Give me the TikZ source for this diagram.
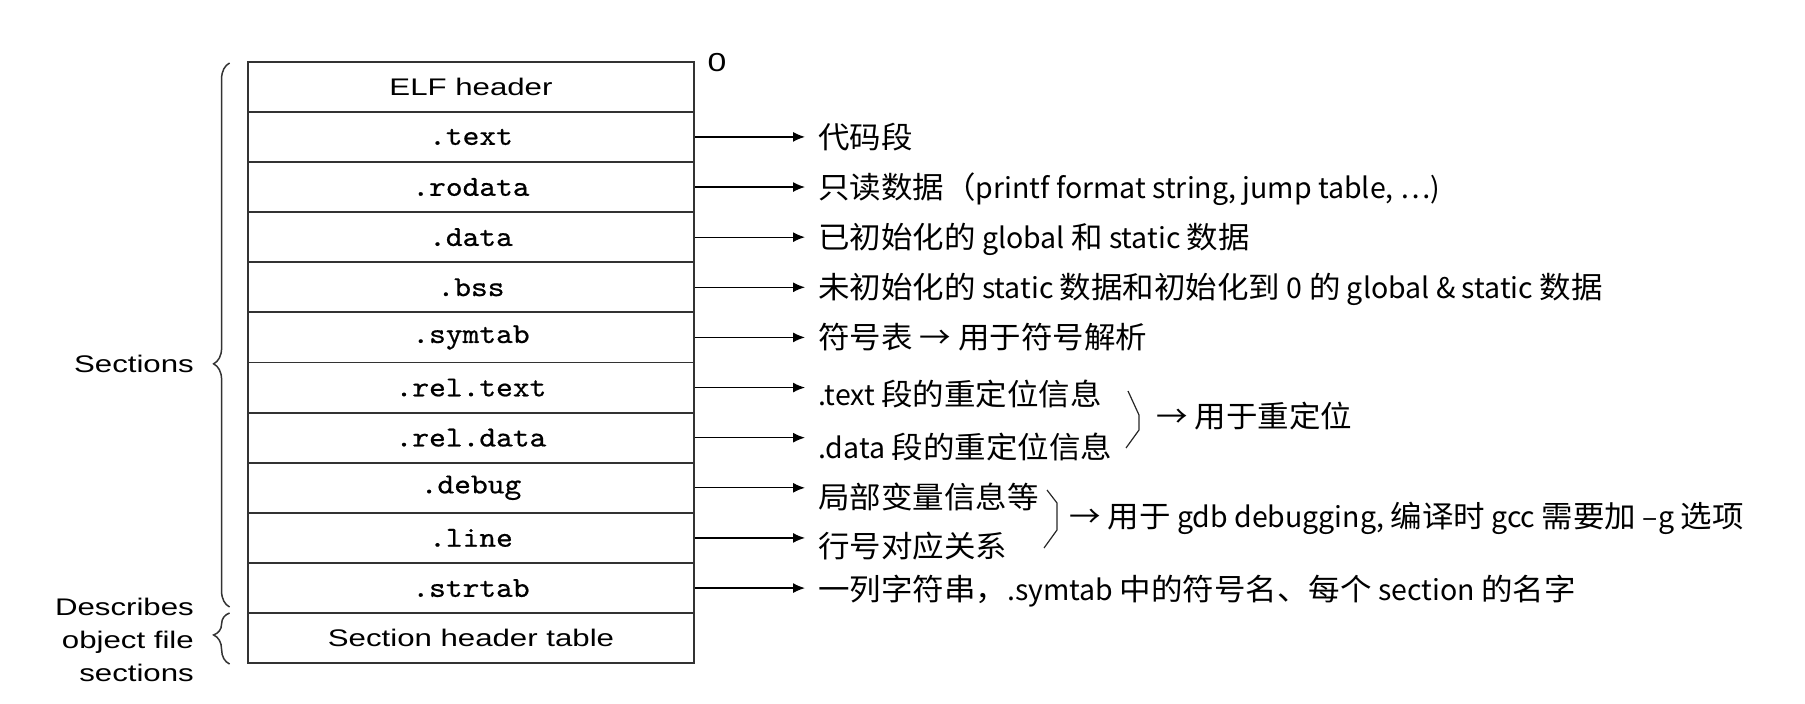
\documentclass[tikz,border=0pt]{standalone}
\usepackage{fontspec}
\usepackage{graphicx}
\setmainfont{Liberation Sans}
\newfontfamily\cjk[FakeStretch=1.05]{Noto Sans CJK SC}
\newfontfamily\cjklat{Noto Sans CJK SC}
\newfontfamily\secmono[FakeBold=0.6]{lmmono10-regular.otf}
\usetikzlibrary{arrows.meta,decorations.pathreplacing}
% the labels of the figure are set a little wide
\newcommand{\hstr}[1]{\scalebox{1.3}[1]{#1}}
% section names in typewriter type
\newcommand{\secname}[1]{\scalebox{1.1}[1]{\secmono\fontsize{29}{32}\selectfont#1}}
% Latin words inside the Chinese notes
\newcommand{\latrun}[1]{{\cjklat\fontsize{28.5}{34}\selectfont#1}}

\begin{document}
\begin{tikzpicture}[x=1pt,y=-1pt,
  seg/.style={draw=black!80, line width=1.8pt, minimum width=446pt,
    minimum height=50.13pt, inner sep=0pt, font=\fontsize{24}{28}\selectfont},
  note/.style={anchor=west, inner sep=0pt, text height=26.4pt, text depth=3.6pt,
    font=\cjk\fontsize{30}{36}\selectfont},
  pointer/.style={-{Latex[length=12pt,width=10pt]}, line width=1.3pt, shorten >=13pt},
  lbl/.style={font=\fontsize{24}{33.3}\selectfont, inner sep=0pt},
  grp/.style={line width=1.2pt, draw=black!85},
  br/.style={decorate, line width=1.5pt, draw=black!80}
]
\useasboundingbox (0,0) rectangle (1805,704);

% ELF object file layout
\node[seg] (s-elf)    at (471,86.77)  {\hstr{ELF header}};
\node[seg] (s-text)   at (471,136.90) {\secname{.text}};
\node[seg] (s-rodata) at (471,187.03) {\secname{.rodata}};
\node[seg] (s-data)   at (471,237.16) {\secname{.data}};
\node[seg] (s-bss)    at (471,287.29) {\secname{.bss}};
\node[seg] (s-symtab) at (471,337.42) {\secname{.symtab}};
\node[seg] (s-reltxt) at (471,387.55) {\secname{.rel.text}};
\node[seg] (s-reldat) at (471,437.68) {\secname{.rel.data}};
\node[seg] (s-debug)  at (471,487.81) {\secname{.debug}};
\node[seg] (s-line)   at (471,537.94) {\secname{.line}};
\node[seg] (s-strtab) at (471,588.07) {\secname{.strtab}};
\node[seg] (s-sht)    at (471,638.20) {\hstr{Section header table}};

\node[lbl, font=\fontsize{26}{30}\selectfont] (zero) at (717,63) {\hstr{0}};

% left-hand braces and their labels
\draw[br, decoration={brace, amplitude=16pt, aspect=0.447}] (229.6,607) -- (229.6,63);
\draw[br, decoration={brace, amplitude=16pt, aspect=0.57}] (229.6,664) -- (229.6,613);
\node[lbl, anchor=east] (sections) at (194,364) {\hstr{Sections}};
\node[lbl, anchor=east, align=right] (describes) at (194,640)
  {\hstr{Describes}\\\hstr{object file}\\\hstr{sections}};

% notes on the right
\node[note] (n-text)   at (818,136.90) {代码段};
\node[note] (n-rodata) at (818,187.03) {只读数据（\latrun{printf format string, jump table, …)}};
\node[note] (n-data)   at (818,237.16) {已初始化的\latrun{ global }和\latrun{ static }数据};
\node[note] (n-bss)    at (818,287.29) {未初始化的\latrun{ static }数据和初始化到\latrun{ 0 }的\latrun{ global \& static }数据};
\node[note] (n-symtab) at (818,337.42) {符号表 → 用于符号解析};
\node[note] (n-reltxt) at (818,394.5)  {\latrun{.text }段的重定位信息};
\node[note] (n-reldat) at (818,447)    {\latrun{.data }段的重定位信息};
\node[note] (n-debug)  at (818,497)    {局部变量信息等};
\node[note] (n-line)   at (818,546)    {行号对应关系};
\node[note] (n-strtab) at (818,589.5)  {一列字符串，\latrun{.symtab }中的符号名、每个\latrun{ section }的名字};

\foreach \s/\n in {s-text/n-text, s-rodata/n-rodata, s-data/n-data, s-bss/n-bss,
    s-symtab/n-symtab, s-reltxt/n-reltxt, s-reldat/n-reldat, s-debug/n-debug,
    s-line/n-line, s-strtab/n-strtab}
  \draw[pointer] (\s.east) -- (\s.east -| \n.west);

% grouping brackets
\draw[grp] (1128,391) -- (1139,415) -- (1139,430) -- (1126,448);
\node[note] (n-reloc) at (1156,416) {→ 用于重定位};
\draw[grp] (1047,490) -- (1057,503) -- (1057,530) -- (1044,548);
\node[note] (n-gdb) at (1069,516) {→ 用于\latrun{ gdb debugging, }编译时\latrun{ gcc }需要加\latrun{ –g }选项};
\end{tikzpicture}
\end{document}
